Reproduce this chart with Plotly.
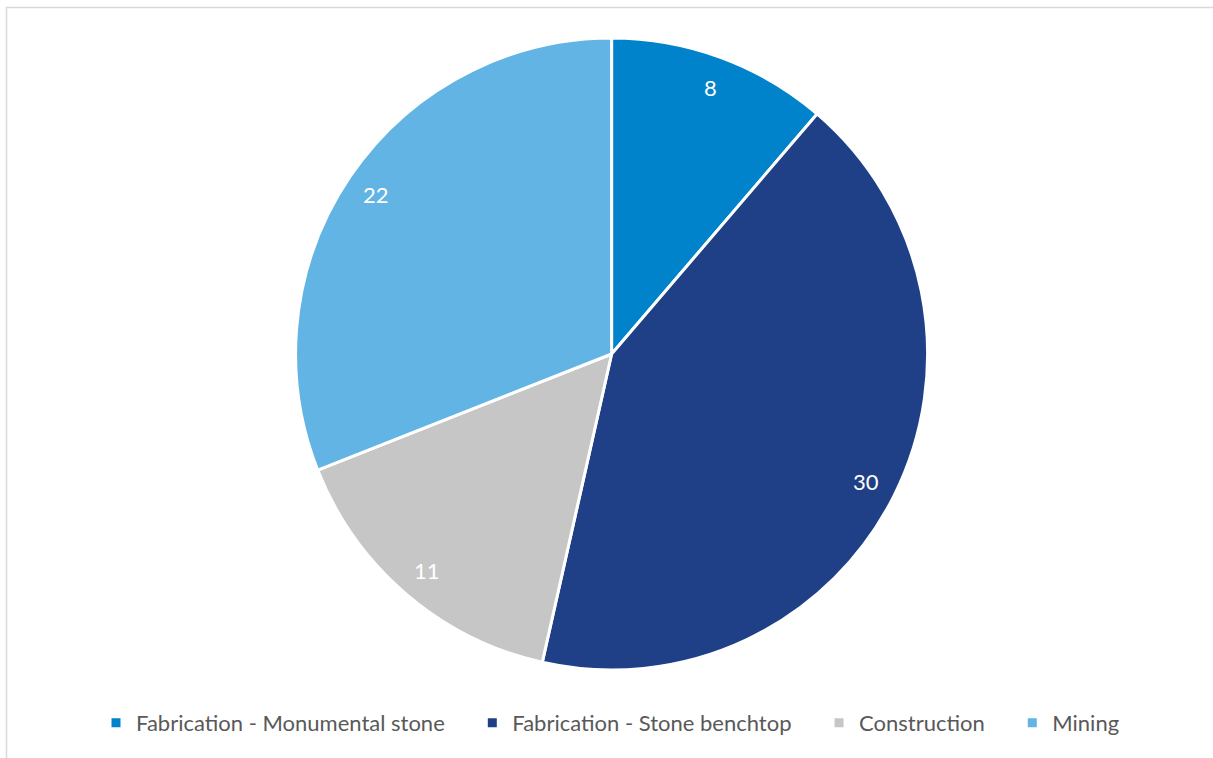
import math
import plotly.graph_objects as go

categories = ["Fabrication - Monumental stone", "Fabrication - Stone benchtop", "Construction", "Mining"]
values = [8, 30, 11, 22]
colors = ["#0083ca", "#1f4087", "#c6c6c6", "#62b4e4"]

W, H = 1213, 758
cx_px, cy_px, r_px = 611.6, 354.0, 316.0
dom_x = [(cx_px - r_px) / W, (cx_px + r_px) / W]
dom_y = [1 - (cy_px + r_px) / H, 1 - (cy_px - r_px) / H]

# trailing non-breaking spaces widen the gap between legend entries
legend_labels = [c + "\u00a0" * 4 for c in categories]

fig = go.Figure(go.Pie(
    labels=legend_labels,
    values=values,
    sort=False,
    direction="clockwise",
    rotation=0,
    marker=dict(colors=colors, line=dict(color="white", width=3)),
    textinfo="none",
    hoverinfo="label+value",
    domain=dict(x=dom_x, y=dom_y),
))

# data labels placed along each slice's mid-angle, derived from values
total = sum(values)
cum = 0
annotations = []
for v in values:
    mid = (cum + v / 2) / total * 2 * math.pi
    cum += v
    px = cx_px + 0.9 * r_px * math.sin(mid)
    py = cy_px - 0.9 * r_px * math.cos(mid)
    annotations.append(dict(
        x=px / W, y=1 - py / H, xref="paper", yref="paper",
        xanchor="center", yanchor="middle",
        text=str(v), showarrow=False,
        font=dict(family="Lato, Open Sans, sans-serif", size=22, color="white"),
    ))

fig.update_layout(
    width=W, height=H,
    margin=dict(l=0, r=0, t=0, b=0),
    paper_bgcolor="white",
    plot_bgcolor="white",
    showlegend=True,
    legend=dict(
        orientation="h", x=0.5 + 15 / W, xanchor="center", y=1 - 723 / H, yanchor="middle",
        font=dict(family="Lato, Open Sans, sans-serif", size=22, color="#595959"),
        itemclick=False, itemdoubleclick=False, traceorder="normal",
    ),
    annotations=annotations,
    shapes=[dict(type="rect", xref="paper", yref="paper",
                 x0=6.5 / W, x1=1.2, y0=-0.2, y1=1 - 7.5 / H,
                 line=dict(color="#d9d9d9", width=1.5), fillcolor="rgba(0,0,0,0)", layer="below")],
)

fig.write_html("out.html", config={"displayModeBar": False},
               post_script="document.body.style.margin='0';document.body.style.overflow='hidden';")
